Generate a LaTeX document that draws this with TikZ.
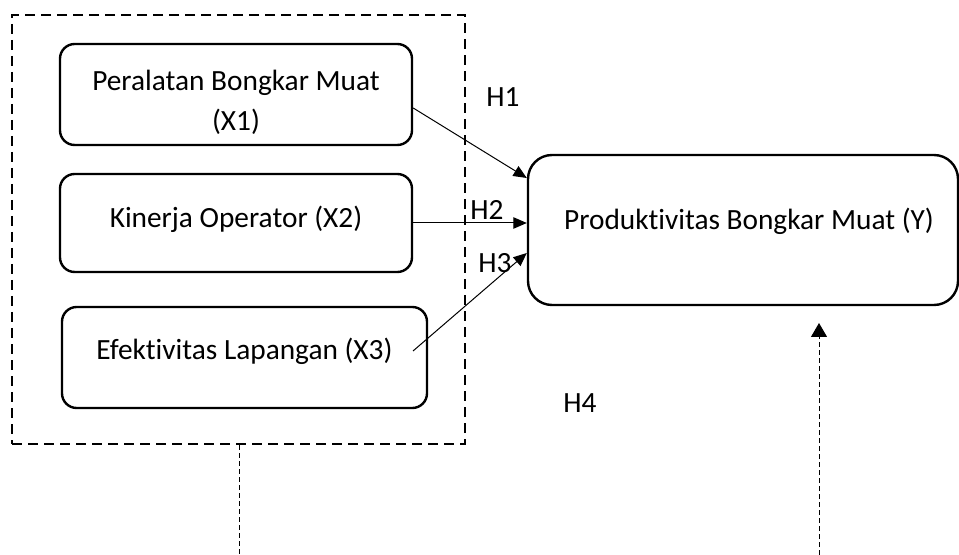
\documentclass[tikz,border=0pt]{standalone}
\usepackage{fontspec}
\setmainfont{Carlito}[Ligatures={NoCommon}]
\usetikzlibrary{arrows.meta,calc}
\newcommand{\boxline}[2]{\raisebox{#1}[0pt][0pt]{#2}}
\begin{document}
\begin{tikzpicture}[x=0.75pt,y=-0.75pt,
  every node/.style={font=\fontsize{22}{30}\selectfont},
  varbox/.style={draw,line width=1.8pt,rounded corners=11pt,align=center,inner sep=0pt},
  groupbox/.style={draw,line width=1.6pt,dash pattern=on 7.5pt off 4.5pt,inner sep=0pt},
  link/.style={line width=0.75pt,-{Triangle[length=10pt,width=8.5pt]}},
  thindash/.style={line width=0.75pt,dash pattern=on 3.75pt off 2.25pt},
  hlabel/.style={inner sep=0pt}]
  \useasboundingbox (0,0) rectangle (959,555);

  % grouping frame around the independent variables
  \node[groupbox,minimum width=339.75pt,minimum height=321.75pt] (grp) at (238.5,229.5) {};

  % independent variables
  \node[varbox,minimum width=264pt,minimum height=75.75pt] (x1) at (236,94.5)
    {\boxline{3pt}{\begin{tabular}[t]{@{}c@{}}Peralatan Bongkar Muat\\(X1)\end{tabular}}};
  \node[varbox,minimum width=264pt,minimum height=73.5pt] (x2) at (236,223)
    {\boxline{-3.6pt}{Kinerja Operator (X2)}};
  \node[varbox,minimum width=273.75pt,minimum height=75.75pt] (x3) at (244.5,357.5)
    {\boxline{-1.3pt}{Efektivitas Lapangan (X3)}};

  % dependent variable
  \node[varbox,rounded corners=18pt,minimum width=322.5pt,minimum height=112.5pt] (y) at (743,230)
    {\hspace*{9pt}\boxline{0pt}{Produktivitas Bongkar Muat (Y)}};

  % hypothesis paths
  \coordinate (h1s) at ($(x1.east)+(0,13.5)$);
  \coordinate (h1e) at ($(y.west)+(0,-52)$);
  \coordinate (h3s) at (413,351);
  \coordinate (h3e) at ($(y.west)+(0,23)$);
  \draw[link] (h1s) -- (h1e);
  \draw[link] (x2.east) -- (x2.east -| y.west);
  \draw[link] (h3s) -- (h3e);

  \node[hlabel] (l1) at (503,97) {H1};
  \node[hlabel] (l2) at (487,210) {H2};
  \node[hlabel] (l3) at (495,263) {H3};
  \node[hlabel] (l4) at (580,403) {H4};

  % simultaneous effect (H4)
  \coordinate (lbot) at ($(grp.south)+(0.5,111)$);
  \coordinate (rbot) at (819,555);
  \coordinate (rtip) at (819,323);
  \draw[thindash] ($(grp.south)+(0.5,0)$) -- (lbot);
  \draw[thindash,-{Triangle[length=10.5pt,width=12pt]}] (rbot) -- (rtip);
\end{tikzpicture}
\end{document}
